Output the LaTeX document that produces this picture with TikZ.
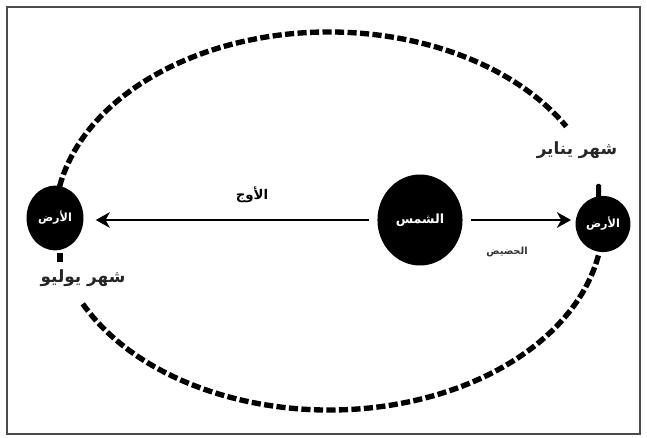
\documentclass[tikz,border=0pt]{standalone}
\usepackage{fontspec}
\newfontfamily\arabicfont[Script=Arabic]{DejaVu Sans}
\TeXXeTstate=1
\usetikzlibrary{arrows.meta, shapes.geometric}

\begin{document}
\begin{tikzpicture}[x=0.025cm, y=-0.025cm,
    every node/.style={font=\arabicfont\bfseries\fontsize{9.5}{11}\selectfont},
    body/.style={ellipse, fill=black, text=white, inner sep=0pt,
                 font=\arabicfont\bfseries\fontsize{8}{9}\selectfont},
    orbit/.style={line width=3.8pt, dash pattern=on 6.5pt off 2.4pt},
    ray/.style={line width=2pt, -{Stealth[length=10pt, width=11pt, inset=3pt]}},
    month/.style={font=\arabicfont\bfseries\fontsize{12}{14}\selectfont, text=black!85}]
  \useasboundingbox (0,0) rectangle (647,438);
  \draw[black!70, line width=0.8pt] (7,7) rectangle (640,434);

  % orbit
  \draw[orbit] (329,221) ++(-169.5:274 and 189)
    arc[start angle=-169.5, end angle=-30, x radius=274, y radius=189];
  \draw[orbit] (329,221) ++(154:274 and 189)
    arc[start angle=154, end angle=10.5, x radius=274, y radius=189];
  \fill (57,253) rectangle (63,262);
  \fill[rounded corners=1pt] (596,184) rectangle (601,199);

  % sun and earth
  \node[body, minimum width=60.5pt, minimum height=64.7pt,
        font=\arabicfont\bfseries\fontsize{9}{10}\selectfont] (sun) at (420,220) {\beginR الشمس\endR};
  \node[body, minimum width=40.5pt, minimum height=46pt] (earthL) at (55,218) {\beginR الأرض\endR};
  \node[body, minimum width=39pt, minimum height=40pt] (earthR) at (603,224) {\beginR الأرض\endR};

  \draw[ray, shorten <=6pt, shorten >=8.5pt] (sun.west) -- (sun.west -| earthL.east);
  \draw[ray, shorten <=6pt, shorten >=3pt] (sun.east) -- (sun.east -| earthR.west);

  % labels
  \node (aph) at (252,195) {\beginR الأوج\endR};
  \node[font=\arabicfont\bfseries\fontsize{7}{8}\selectfont, text=black!80] (peri) at (507,252) {\beginR الحضيض\endR};
  \node[month] (jan) at (577,150) {\beginR شهر يناير\endR};
  \node[month] (jul) at (83,278) {\beginR شهر يوليو\endR};
\end{tikzpicture}
\end{document}
